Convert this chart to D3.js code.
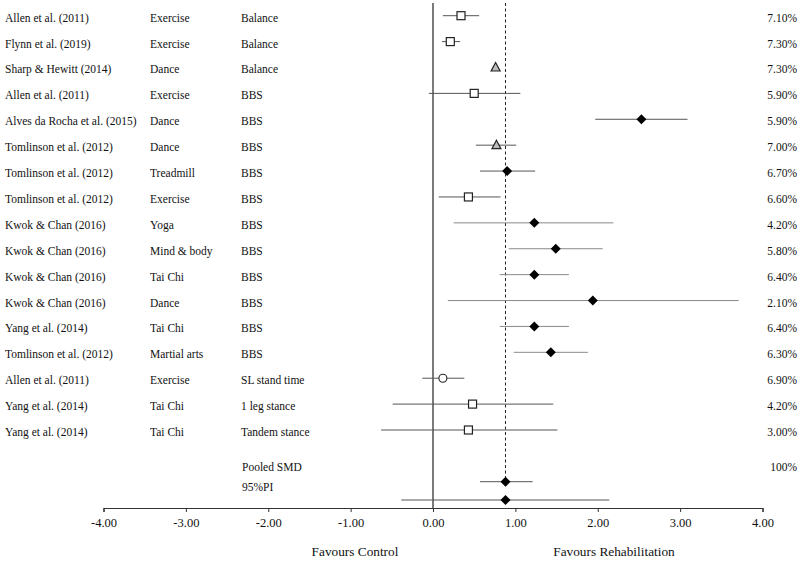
<!DOCTYPE html>
<html><head><meta charset="utf-8">
<script src="https://cdn.jsdelivr.net/npm/d3@7"></script>
<style>body{margin:0;background:#fff}svg{display:block}text{font-family:"Liberation Serif","Times New Roman",serif;fill:#111}</style>
</head><body><svg id="c" width="800" height="562"></svg>
<script>
const studies = ["Allen et al. (2011)","Flynn et al. (2019)","Sharp & Hewitt (2014)","Allen et al. (2011)","Alves da Rocha et al. (2015)","Tomlinson et al. (2012)","Tomlinson et al. (2012)","Tomlinson et al. (2012)","Kwok & Chan (2016)","Kwok & Chan (2016)","Kwok & Chan (2016)","Kwok & Chan (2016)","Yang et al. (2014)","Tomlinson et al. (2012)","Allen et al. (2011)","Yang et al. (2014)","Yang et al. (2014)"];
const interventions = ["Exercise","Exercise","Dance","Exercise","Dance","Dance","Treadmill","Exercise","Yoga","Mind & body","Tai Chi","Dance","Tai Chi","Martial arts","Exercise","Tai Chi","Tai Chi"];
const outcomes = ["Balance","Balance","Balance","BBS","BBS","BBS","BBS","BBS","BBS","BBS","BBS","BBS","BBS","BBS","SL stand time","1 leg stance","Tandem stance"];
const smd = [0.34,0.21,0.76,0.50,2.53,0.77,0.90,0.43,1.23,1.49,1.23,1.94,1.23,1.43,0.12,0.48,0.43];
const lower = [0.12,0.11,0.76,-0.05,1.97,0.52,0.57,0.07,0.25,0.92,0.81,0.18,0.81,0.98,-0.13,-0.49,-0.63];
const upper = [0.56,0.33,0.76,1.06,3.09,1.01,1.24,0.82,2.19,2.06,1.65,3.71,1.65,1.88,0.38,1.46,1.51];
const weights = ["7.10%","7.30%","7.30%","5.90%","5.90%","7.00%","6.70%","6.60%","4.20%","5.80%","6.40%","2.10%","6.40%","6.30%","6.90%","4.20%","3.00%"];
const markers = ["square","square","triangle","square","diamond","triangle","diamond","square","diamond","diamond","diamond","diamond","diamond","diamond","circle","square","square"];
const pooledLabels = ["Pooled SMD","95%PI"];
const pooledSmd = [0.88,0.88];
const pooledLower = [0.57,-0.385];
const pooledUpper = [1.21,2.14];
const pooledWeight = "100%";
const xTicks = [-4,-3,-2,-1,0,1,2,3,4];

const svg = d3.select("#c");
const x = d3.scaleLinear().domain([-4,4]).range([103.5,762.5]);
const y = d3.scaleLinear().domain([0,16]).range([15.7,430]);
const yPool = [481.7,500];
const yPoolText = [467,487];
const fs = 11.5;

// zero line
svg.append("line").attr("x1",x(0)).attr("x2",x(0)).attr("y1",3).attr("y2",508).attr("stroke","#222").attr("stroke-width",1.2);
// dashed pooled line
svg.append("line").attr("x1",x(pooledSmd[0])).attr("x2",x(pooledSmd[0])).attr("y1",3).attr("y2",yPool[0]).attr("stroke","#222").attr("stroke-width",1).attr("stroke-dasharray","3,2.5");

// axis
const fmt = d3.format(".2f");
const ax = svg.append("g").attr("transform","translate(0,508)")
  .call(d3.axisBottom(x).tickValues(xTicks).tickFormat(d=>fmt(d).replace("\u2212","-")).tickSize(4).tickPadding(6));
ax.select(".domain").attr("stroke","#333").attr("stroke-width",1.2);
ax.selectAll(".tick line").attr("stroke","#333");
ax.selectAll(".tick text").attr("font-size",12.5).attr("fill","#111");

// CI lines
const idx = d3.range(studies.length);
svg.selectAll(".ci").data(idx).join("line")
  .attr("x1",i=>x(lower[i])).attr("x2",i=>x(upper[i]))
  .attr("y1",i=>y(i)).attr("y2",i=>y(i))
  .attr("stroke",i=>(i>=8&&i<=13)?"#8a8a8a":"#555").attr("stroke-width",1);
svg.selectAll(".pci").data([0,1]).join("line")
  .attr("x1",i=>x(pooledLower[i])).attr("x2",i=>x(pooledUpper[i]))
  .attr("y1",i=>yPool[i]).attr("y2",i=>yPool[i])
  .attr("stroke","#555").attr("stroke-width",1);

function drawMarker(g,type,cx,cy){
  if(type==="square") g.append("rect").attr("x",cx-4).attr("y",cy-4).attr("width",8).attr("height",8).attr("fill","#fff").attr("stroke","#222").attr("stroke-width",1.2);
  else if(type==="diamond") g.append("path").attr("d",`M${cx},${cy-5}L${cx+5},${cy}L${cx},${cy+5}L${cx-5},${cy}Z`).attr("fill","#000");
  else if(type==="triangle") g.append("path").attr("d",`M${cx},${cy-5}L${cx+4.5},${cy+3.5}L${cx-4.5},${cy+3.5}Z`).attr("fill","#bbb").attr("stroke","#222").attr("stroke-width",1.2);
  else if(type==="circle") g.append("circle").attr("cx",cx).attr("cy",cy).attr("r",4).attr("fill","#fff").attr("stroke","#222").attr("stroke-width",1.1);
}
const mg = svg.append("g");
idx.forEach(i=>drawMarker(mg,markers[i],x(smd[i]),y(i)));
[0,1].forEach(i=>drawMarker(mg,"diamond",x(pooledSmd[i]),yPool[i]));

// text columns
const tg = svg.append("g").attr("font-size",fs);
tg.selectAll(".s").data(idx).join("text").attr("x",5).attr("y",i=>y(i)+2).attr("dominant-baseline","central").text(i=>studies[i]);
tg.selectAll(".iv").data(idx).join("text").attr("x",150).attr("y",i=>y(i)+2).attr("dominant-baseline","central").text(i=>interventions[i]);
tg.selectAll(".o").data(idx).join("text").attr("x",241).attr("y",i=>y(i)+2).attr("dominant-baseline","central").text(i=>outcomes[i]);
tg.selectAll(".w").data(idx).join("text").attr("x",797).attr("y",i=>y(i)+2).attr("text-anchor","end").attr("dominant-baseline","central").text(i=>weights[i]);
tg.selectAll(".pl").data([0,1]).join("text").attr("x",242).attr("y",i=>yPoolText[i]).attr("dominant-baseline","central").text(i=>pooledLabels[i]);
tg.append("text").attr("x",797).attr("y",yPoolText[0]).attr("text-anchor","end").attr("dominant-baseline","central").text(pooledWeight);

// favours labels
svg.append("text").attr("x",355).attr("y",551).attr("text-anchor","middle").attr("dominant-baseline","central").attr("font-size",13.3).text("Favours Control");
svg.append("text").attr("x",614).attr("y",551).attr("text-anchor","middle").attr("dominant-baseline","central").attr("font-size",13.3).text("Favours Rehabilitation");
</script></body></html>
